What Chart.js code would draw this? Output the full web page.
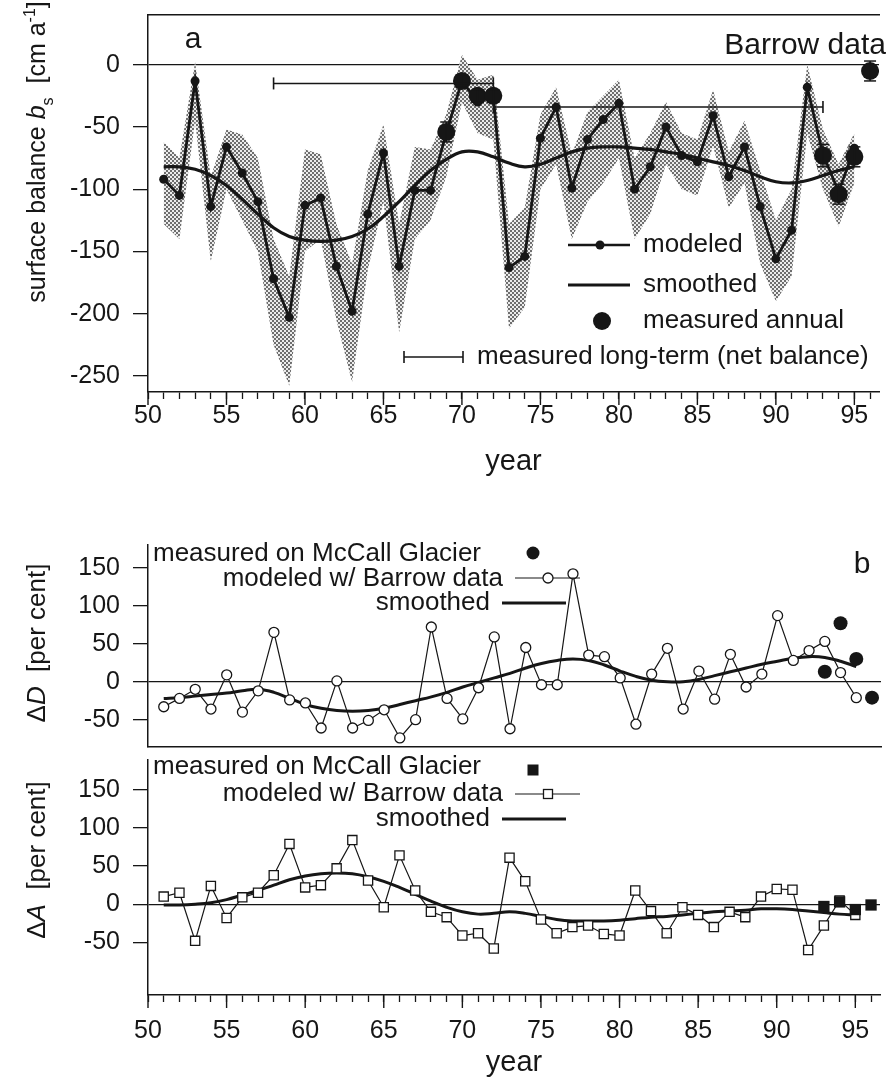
<!DOCTYPE html>
<html>
<head>
<meta charset="utf-8">
<script src="https://cdn.jsdelivr.net/npm/chart.js@4.4.1/dist/chart.umd.min.js"></script>
<style>
  html, body { margin: 0; padding: 0; background: #fff; }
  #wrap { position: relative; width: 888px; height: 1085px; overflow: hidden; }
  canvas { position: absolute; left: 0; }
</style>
</head>
<body>
<div id="wrap">
  <canvas id="balance-graphic" width="888" height="480" style="top:0px"></canvas>
  <canvas id="delta-d-graphic" width="888" height="274" style="top:480px"></canvas>
  <canvas id="delta-a-graphic" width="888" height="333" style="top:752px"></canvas>
</div>
<script>
var FAMILY = '"Liberation Sans", Arial, Helvetica, sans-serif';
var ink = '#161616';

// ---- data ----
var years = [51, 52, 53, 54, 55, 56, 57, 58, 59, 60, 61, 62, 63, 64, 65, 66, 67, 68, 69, 70,
             71, 72, 73, 74, 75, 76, 77, 78, 79, 80, 81, 82, 83, 84, 85, 86, 87, 88, 89, 90,
             91, 92, 93, 94, 95];
var tickYears = [50, 51, 52, 53, 54, 55, 56, 57, 58, 59, 60, 61, 62, 63, 64, 65, 66, 67, 68, 69, 70,
                 71, 72, 73, 74, 75, 76, 77, 78, 79, 80, 81, 82, 83, 84, 85, 86, 87, 88, 89, 90,
                 91, 92, 93, 94, 95, 96];
var yearLabels = [50, 55, 60, 65, 70, 75, 80, 85, 90, 95];
var balanceTicks = [0, -50, -100, -150, -200, -250];
var percentTicks = [150, 100, 50, 0, -50];

// panel a: surface balance (cm/a)
var modeled = [-92, -105, -13, -114, -66, -87, -110, -172, -203, -113,
               -107, -162, -198, -120, -71, -162, -101, -101, -55, -13,
               -30, -25, -163, -154, -59, -34, -99, -60, -44, -31,
               -100, -82, -50, -73, -78, -41, -90, -66, -114, -156,
               -133, -18, -72, -102, -67];
var bandTop = [-62, -75, 2, -90, -52, -56, -75, -140, -170, -68,
               -72, -128, -160, -85, -48, -128, -66, -68, -40, 8,
               -12, -8, -128, -115, -40, -18, -72, -38, -25, -12,
               -75, -55, -30, -55, -60, -20, -70, -45, -85, -125,
               -100, 0, -52, -80, -55];
var bandBottom = [-128, -140, -45, -158, -100, -125, -150, -225, -258, -150,
                  -140, -205, -255, -165, -110, -215, -140, -125, -90, -30,
                  -55, -60, -212, -195, -100, -80, -140, -110, -95, -75,
                  -140, -120, -80, -100, -105, -65, -115, -95, -160, -190,
                  -170, -55, -100, -130, -95];
var smoothed = [-82, -82, -84, -89, -97, -108, -120, -131, -138, -141,
                -142, -141, -138, -132, -122, -110, -97, -85, -76, -70,
                -70, -74, -79, -82, -80, -75, -70, -67, -66, -66,
                -67, -68, -70, -72, -75, -78, -81, -85, -90, -94,
                -95, -93, -89, -85, -82];
var measYears = [69, 70, 71, 72, 93, 94, 95, 96];
var measBalance = [-54, -13, -25, -25, -73, -104, -74, -5];
var measError = [8, 5, 5, 5, 9, 8, 8, 8];
var longStart = [58, 72];
var longEnd = [72, 93];
var longBalance = [-15, -34];

// panel b: ΔD and ΔA (per cent)
var dModeled = [-33, -22, -10, -36, 9, -40, -12, 65, -24, -28,
                -61, 1, -61, -51, -37, -74, -50, 72, -22, -49,
                -8, 59, -62, 45, -4, -4, 142, 35, 33, 5,
                -56, 10, 44, -36, 14, -23, 36, -7, 10, 87,
                28, 41, 53, 12, -21];
var dSmoothed = [-22, -21, -19, -17, -15, -12, -10, -14, -22, -30,
                 -35, -38, -39, -38, -35, -30, -25, -20, -14, -7,
                 -1, 5, 11, 18, 24, 28, 30, 28, 22, 14,
                 7, 2, 0, 0, 3, 8, 13, 18, 23, 27,
                 31, 33, 32, 27, 20];
var dMeasYears = [93, 94, 95, 96];
var dMeasured = [13, 77, 30, -21];

var aModeled = [10, 15, -48, 24, -18, 9, 15, 38, 79, 22,
                25, 47, 84, 31, -4, 64, 18, -10, -17, -41,
                -38, -58, 61, 30, -20, -38, -30, -28, -39, -41,
                18, -9, -38, -4, -14, -30, -10, -17, 10, 20,
                19, -60, -28, 5, -14];
var aSmoothed = [-1, -1, 0, 2, 6, 12, 18, 25, 32, 37,
                 40, 41, 40, 36, 30, 22, 13, 4, -4, -10,
                 -13, -12, -10, -12, -16, -20, -22, -22, -22, -21,
                 -19, -17, -16, -14, -12, -10, -9, -8, -6, -6,
                 -7, -9, -11, -13, -14];
var aMeasYears = [93, 94, 95, 96];
var aMeasured = [-3, 3, -7, -1];

// texts
var balanceTitle = [{ t: 'surface balance ' }, { t: 'b', it: true }, { t: 's', sub: true },
                    { t: '  [cm a' }, { t: '-1', sup: true }, { t: ']' }];
var dTitle = [{ t: '\u0394' }, { t: 'D', it: true }, { t: '  [per cent]' }];
var aTitle = [{ t: '\u0394' }, { t: 'A', it: true }, { t: '  [per cent]' }];
var legendA = ['modeled', 'smoothed', 'measured annual', 'measured long-term (net balance)'];
var legendB = ['measured on McCall Glacier', 'modeled w/ Barrow data', 'smoothed'];

Chart.defaults.font.family = FAMILY;
Chart.defaults.color = ink;

function pts(xs, ys) {
    return xs.map(function (x, i) { return { x: x, y: ys[i] }; });
}
function keepTicks(list) {
    return function (scale) {
        scale.ticks = list.map(function (v) { return { value: v }; });
    };
}
function zeroLine(c) {
    return c.tick && c.tick.value === 0 ? ink : 'rgba(0,0,0,0)';
}
function halftone(ctx) {
    var p = document.createElement('canvas');
    p.width = 4; p.height = 4;
    var g = p.getContext('2d');
    g.fillStyle = '#ececec';
    g.fillRect(0, 0, 4, 4);
    g.fillStyle = '#6e6e6e';
    g.fillRect(0, 0, 2, 2);
    g.fillRect(2, 2, 2, 2);
    return ctx.createPattern(p, 'repeat');
}

// small drawing helpers for titles and legends
function seg(c, x0, y0, x1, y1, w) {
    c.save();
    c.strokeStyle = ink; c.lineWidth = w;
    c.beginPath(); c.moveTo(x0, y0); c.lineTo(x1, y1); c.stroke();
    c.restore();
}
function disc(c, x, y, r, open) {
    c.save();
    c.beginPath(); c.arc(x, y, r, 0, Math.PI * 2);
    c.fillStyle = open ? '#fff' : ink; c.fill();
    if (open) { c.strokeStyle = ink; c.lineWidth = 1.3; c.stroke(); }
    c.restore();
}
function box(c, x, y, s, open) {
    c.save();
    c.fillStyle = open ? '#fff' : ink;
    c.fillRect(x - s / 2, y - s / 2, s, s);
    if (open) { c.strokeStyle = ink; c.lineWidth = 1.3; c.strokeRect(x - s / 2, y - s / 2, s, s); }
    c.restore();
}
function say(c, str, x, y, size, align) {
    c.save();
    c.font = size + 'px ' + FAMILY;
    c.fillStyle = ink;
    c.textAlign = align || 'left';
    c.textBaseline = 'middle';
    c.fillText(str, x, y);
    c.restore();
}
function richText(c, parts, bx, cy, size) {
    c.save();
    c.translate(bx, cy);
    c.rotate(-Math.PI / 2);
    c.fillStyle = ink;
    c.textBaseline = 'alphabetic';
    c.textAlign = 'left';
    var pieces = parts.map(function (p) {
        var s = (p.sub || p.sup) ? Math.round(size * 0.64) : size;
        var f = (p.it ? 'italic ' : '') + s + 'px ' + FAMILY;
        c.font = f;
        return { t: p.t, f: f, w: c.measureText(p.t).width,
                 dy: p.sub ? size * 0.3 : (p.sup ? -size * 0.42 : 0) };
    });
    var total = pieces.reduce(function (a, p) { return a + p.w; }, 0);
    var x = -total / 2;
    pieces.forEach(function (p) { c.font = p.f; c.fillText(p.t, x, p.dy); x += p.w; });
    c.restore();
}
function majorTicks(c, xs, len) {
    yearLabels.forEach(function (v) {
        var px = xs.getPixelForValue(v);
        seg(c, px, xs.top, px, xs.top + len, 1.4);
    });
}

function xAxis(height, pad, titlePad) {
    return {
        type: 'linear', min: 50, max: 96.57,
        afterBuildTicks: keepTicks(tickYears),
        ticks: {
            autoSkip: false, maxRotation: 0, padding: pad, color: ink, font: { size: 25 },
            callback: function (v) { return yearLabels.indexOf(v) >= 0 ? String(v) : ''; }
        },
        grid: { drawOnChartArea: false, tickLength: 7, tickColor: ink, tickWidth: 1.3 },
        border: { color: ink, width: 1.5 },
        title: { display: true, text: 'year', color: ink, font: { size: 29 }, padding: { top: 0, bottom: titlePad } },
        afterFit: function (s) { s.height = height; s.paddingLeft = 0; s.paddingRight = 0; }
    };
}
function yAxis(min, max, list) {
    return {
        min: min, max: max,
        afterBuildTicks: keepTicks(list),
        ticks: { padding: 13, color: ink, font: { size: 25 } },
        grid: { color: zeroLine, lineWidth: 1.3, tickLength: 15, tickColor: ink, tickWidth: 1.3 },
        border: { color: ink, width: 1.5 },
        afterFit: function (s) { s.width = 148; s.paddingTop = 0; s.paddingBottom = 0; }
    };
}
function edgeAxis(pos) {
    return {
        type: 'linear', position: pos, min: 50, max: 96.57,
        ticks: { display: false },
        grid: { drawOnChartArea: false, drawTicks: false },
        border: { color: ink, width: 1.5 },
        afterFit: function (s) { s.height = 2; s.paddingLeft = 0; s.paddingRight = 0; }
    };
}
var common = {
    responsive: false, animation: false, events: [],
    plugins: { legend: { display: false }, tooltip: { enabled: false } }
};

// ---------- panel a ----------
var ctx = document.getElementById('balance-graphic').getContext('2d');

var errorSets = measYears.map(function (yr, i) {
    return {
        data: [{ x: yr, y: measBalance[i] + measError[i] }, { x: yr, y: measBalance[i] - measError[i] }],
        borderColor: ink, borderWidth: 1.5, pointStyle: 'line', pointRadius: 6,
        pointBorderColor: ink, pointBorderWidth: 1.5, order: 0
    };
});
var longSets = longStart.map(function (s, i) {
    return {
        data: [{ x: s, y: longBalance[i] }, { x: longEnd[i], y: longBalance[i] }],
        borderColor: ink, borderWidth: 1.6, pointStyle: 'line', pointRotation: 90, pointRadius: 6,
        pointBorderColor: ink, pointBorderWidth: 1.6, order: 0
    };
});

var decorA = {
    id: 'decorA',
    afterDraw: function (chart) {
        var c = chart.ctx;
        majorTicks(c, chart.scales.x, 13);
        richText(c, balanceTitle, 45, 152, 25);
        say(c, 'a', 193, 40, 30, 'center');
        say(c, 'Barrow data', 886, 46, 30, 'right');
        seg(c, 568, 245, 630, 245, 2.6); disc(c, 600, 245, 4.5);
        say(c, legendA[0], 643, 245, 26);
        seg(c, 568, 285, 630, 285, 3.2);
        say(c, legendA[1], 643, 285, 26);
        disc(c, 602, 321, 9);
        say(c, legendA[2], 643, 321, 26);
        seg(c, 404, 357, 463, 357, 1.6); seg(c, 404, 351, 404, 363, 1.6); seg(c, 463, 351, 463, 363, 1.6);
        say(c, legendA[3], 477, 357, 26);
    }
};

var myBalanceChart = new Chart(ctx, {
    type: 'line',
    data: {
        datasets: [{
            label: 'band top',
            data: pts(years, bandTop),
            fill: '+1', backgroundColor: halftone(ctx), borderWidth: 0, pointRadius: 0, order: 10
        }, {
            label: 'band bottom',
            data: pts(years, bandBottom),
            fill: false, borderWidth: 0, pointRadius: 0, order: 11
        }, {
            label: 'modeled',
            data: pts(years, modeled),
            borderColor: ink, borderWidth: 2.8, pointRadius: 4.5,
            pointBackgroundColor: ink, pointBorderWidth: 0, order: 3
        }, {
            label: 'smoothed',
            data: pts(years, smoothed),
            borderColor: ink, borderWidth: 3.2, pointRadius: 0, tension: 0.4, order: 2
        }, {
            label: 'measured annual',
            data: pts(measYears, measBalance),
            showLine: false, pointRadius: 9, pointBackgroundColor: ink, pointBorderWidth: 0, order: 1
        }].concat(errorSets, longSets)
    },
    options: Object.assign({}, common, {
        layout: { padding: { top: 13, left: 0, right: 0, bottom: 0 } },
        scales: {
            x: xAxis(88, 2, 1),
            top: edgeAxis('top'),
            y: yAxis(-263, 40, balanceTicks)
        }
    }),
    plugins: [decorA]
});

// ---------- panel b, ΔD ----------
var ctx = document.getElementById('delta-d-graphic').getContext('2d');

var decorD = {
    id: 'decorD',
    afterDraw: function (chart) {
        var c = chart.ctx;
        richText(c, dTitle, 45, 163, 26);
        say(c, 'b', 862, 85, 30, 'center');
        say(c, legendB[0], 153, 74, 26, 'left'); disc(c, 533, 73, 6.5);
        say(c, legendB[1], 503, 99, 26, 'right'); seg(c, 515, 98, 580, 98, 1.2); disc(c, 548, 98, 5, true);
        say(c, legendB[2], 490, 123, 26, 'right'); seg(c, 502, 123, 566, 123, 3);
    }
};

var myDeltaDChart = new Chart(ctx, {
    type: 'line',
    data: {
        datasets: [{
            label: 'measured on McCall Glacier',
            data: pts(dMeasYears, dMeasured),
            showLine: false, pointRadius: 7, pointBackgroundColor: ink, pointBorderWidth: 0, order: 0
        }, {
            label: 'modeled w/ Barrow data',
            data: pts(years, dModeled),
            borderColor: ink, borderWidth: 1.2, pointRadius: 5, pointBackgroundColor: '#fff',
            pointBorderColor: ink, pointBorderWidth: 1.3, order: 1
        }, {
            label: 'smoothed',
            data: pts(years, dSmoothed),
            borderColor: ink, borderWidth: 3, pointRadius: 0, tension: 0.4, order: 2
        }]
    },
    options: Object.assign({}, common, {
        layout: { padding: { top: 65, left: 0, right: 0, bottom: 0 } },
        scales: {
            x: edgeAxis('bottom'),
            y: yAxis(-86, 180, percentTicks)
        }
    }),
    plugins: [decorD]
});

// ---------- panel b, ΔA ----------
var ctx = document.getElementById('delta-a-graphic').getContext('2d');

var decorAlb = {
    id: 'decorAlb',
    afterDraw: function (chart) {
        var c = chart.ctx;
        majorTicks(c, chart.scales.x, 13);
        richText(c, aTitle, 45, 108, 26);
        say(c, legendB[0], 153, 15, 26, 'left'); box(c, 533, 18, 11);
        say(c, legendB[1], 503, 42, 26, 'right'); seg(c, 515, 42, 580, 42, 1.2); box(c, 548, 42, 9, true);
        say(c, legendB[2], 490, 67, 26, 'right'); seg(c, 502, 67, 566, 67, 3);
    }
};

var myDeltaAChart = new Chart(ctx, {
    type: 'line',
    data: {
        datasets: [{
            label: 'measured on McCall Glacier',
            data: pts(aMeasYears, aMeasured),
            showLine: false, pointStyle: 'rect', pointRadius: 8, pointBackgroundColor: ink,
            pointBorderWidth: 0, order: 0
        }, {
            label: 'modeled w/ Barrow data',
            data: pts(years, aModeled),
            borderColor: ink, borderWidth: 1.2, pointStyle: 'rect', pointRadius: 6.5,
            pointBackgroundColor: '#fff', pointBorderColor: ink, pointBorderWidth: 1.3, order: 1
        }, {
            label: 'smoothed',
            data: pts(years, aSmoothed),
            borderColor: ink, borderWidth: 3, pointRadius: 0, tension: 0.4, order: 2
        }]
    },
    options: Object.assign({}, common, {
        layout: { padding: { top: 0, left: 0, right: 0, bottom: 0 } },
        scales: {
            x: xAxis(90, 14, 5),
            y: yAxis(-119, 189, percentTicks)
        }
    }),
    plugins: [decorAlb]
});
</script>
</body>
</html>
